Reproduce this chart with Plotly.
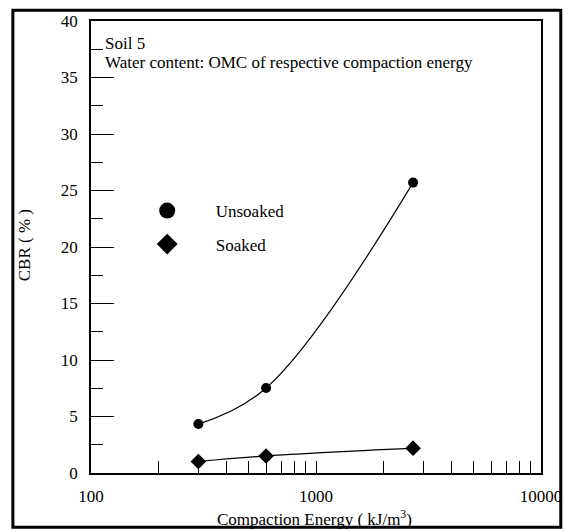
import plotly.graph_objects as go

energy = [300, 600, 2700]
cbr_unsoaked = [4.33, 7.52, 25.7]
cbr_soaked = [1.02, 1.51, 2.2]
series_names = ["Unsoaked", "Soaked"]
x_tickvals = [100, 200, 300, 400, 500, 600, 700, 800, 900, 1000,
              2000, 3000, 4000, 5000, 6000, 7000, 8000, 9000, 10000]
x_ticktext = ["100", "", "", "", "", "", "", "", "", "1000",
              "", "", "", "", "", "", "", "", "10000"]
y_tickvals = [0, 5, 10, 15, 20, 25, 30, 35, 40]
note_lines = ["Soil 5", "Water content: OMC of respective compaction energy"]

FONT = "Liberation Serif, Times New Roman, serif"
FS = 17

fig = go.Figure()
fig.add_trace(go.Scatter(x=energy, y=cbr_unsoaked, mode="lines+markers",
                         line=dict(color="black", width=1.2, shape="spline", smoothing=1.1),
                         marker=dict(symbol="circle", size=10, color="black"),
                         showlegend=False))
fig.add_trace(go.Scatter(x=energy, y=cbr_soaked, mode="lines+markers",
                         line=dict(color="black", width=1.2, shape="spline", smoothing=1),
                         marker=dict(symbol="diamond", size=12, color="black"),
                         showlegend=False))
# legend entries
fig.add_trace(go.Scatter(x=[None], y=[None], mode="markers", name=series_names[0],
                         marker=dict(symbol="circle", size=18, color="black"),
                         legend="legend"))
fig.add_trace(go.Scatter(x=[None], y=[None], mode="markers", name=series_names[1],
                         marker=dict(symbol="diamond", size=18, color="black"),
                         legend="legend2"))

W, H = 574, 531
L, R, T, B = 91, 28, 14, 58
pw, ph = W - L - R, H - T - B

def px(xpix):
    return (xpix - L) / pw

def py(ypix):
    return (H - B - ypix) / ph

fig.update_layout(
    width=W, height=H,
    margin=dict(l=L, r=R, t=T, b=B),
    paper_bgcolor="white", plot_bgcolor="white",
    font=dict(family=FONT, size=FS, color="black"),
    legend=dict(x=px(119), y=py(207), xanchor="left", yanchor="middle",
                bgcolor="rgba(0,0,0,0)", itemwidth=87, font=dict(size=FS)),
    legend2=dict(x=px(119), y=py(241), xanchor="left", yanchor="middle",
                 bgcolor="rgba(0,0,0,0)", itemwidth=87, font=dict(size=FS)),
    xaxis=dict(type="log", range=[2, 4], tickvals=x_tickvals, ticktext=x_ticktext,
               ticks="inside", ticklen=12, tickwidth=1.2, tickcolor="black",
               showline=True, linecolor="black", linewidth=1.5, mirror=True,
               showgrid=False, zeroline=False, ticklabelstandoff=7,
               tickfont=dict(size=FS, family=FONT)),
    yaxis=dict(range=[0, 40], tickvals=y_tickvals,
               ticks="inside", ticklen=23, tickwidth=1.2, tickcolor="black",
               minor=dict(dtick=2.5, ticks="inside", ticklen=12, tickwidth=1.2,
                          tickcolor="black", showgrid=False),
               showline=True, linecolor="black", linewidth=1.5, mirror=True,
               showgrid=False, zeroline=False, ticklabelstandoff=8,
               tickfont=dict(size=FS, family=FONT)),
    shapes=[dict(type="rect", xref="paper", yref="paper",
                 x0=px(12), x1=px(566), y0=py(528), y1=py(3),
                 line=dict(color="black", width=3))],
    annotations=[
        dict(text=note_lines[0], xref="paper", yref="paper", x=px(103), y=py(37),
             xanchor="left", yanchor="middle", showarrow=False,
             font=dict(size=FS, family=FONT)),
        dict(text=note_lines[1], xref="paper", yref="paper", x=px(103), y=py(56),
             xanchor="left", yanchor="middle", showarrow=False,
             font=dict(size=FS, family=FONT)),
        dict(text="CBR ( % )", xref="paper", yref="paper", x=px(24), y=py(242),
             xanchor="center", yanchor="middle",
             textangle=-90, showarrow=False, font=dict(size=FS, family=FONT)),
        dict(text="Compaction Energy ( kJ/m<sup>3</sup>)", xref="paper", yref="paper",
             x=px(317), y=py(519), xanchor="center", yanchor="middle", showarrow=False,
             font=dict(size=FS, family=FONT)),
    ],
)

fig.write_html("out.html")
